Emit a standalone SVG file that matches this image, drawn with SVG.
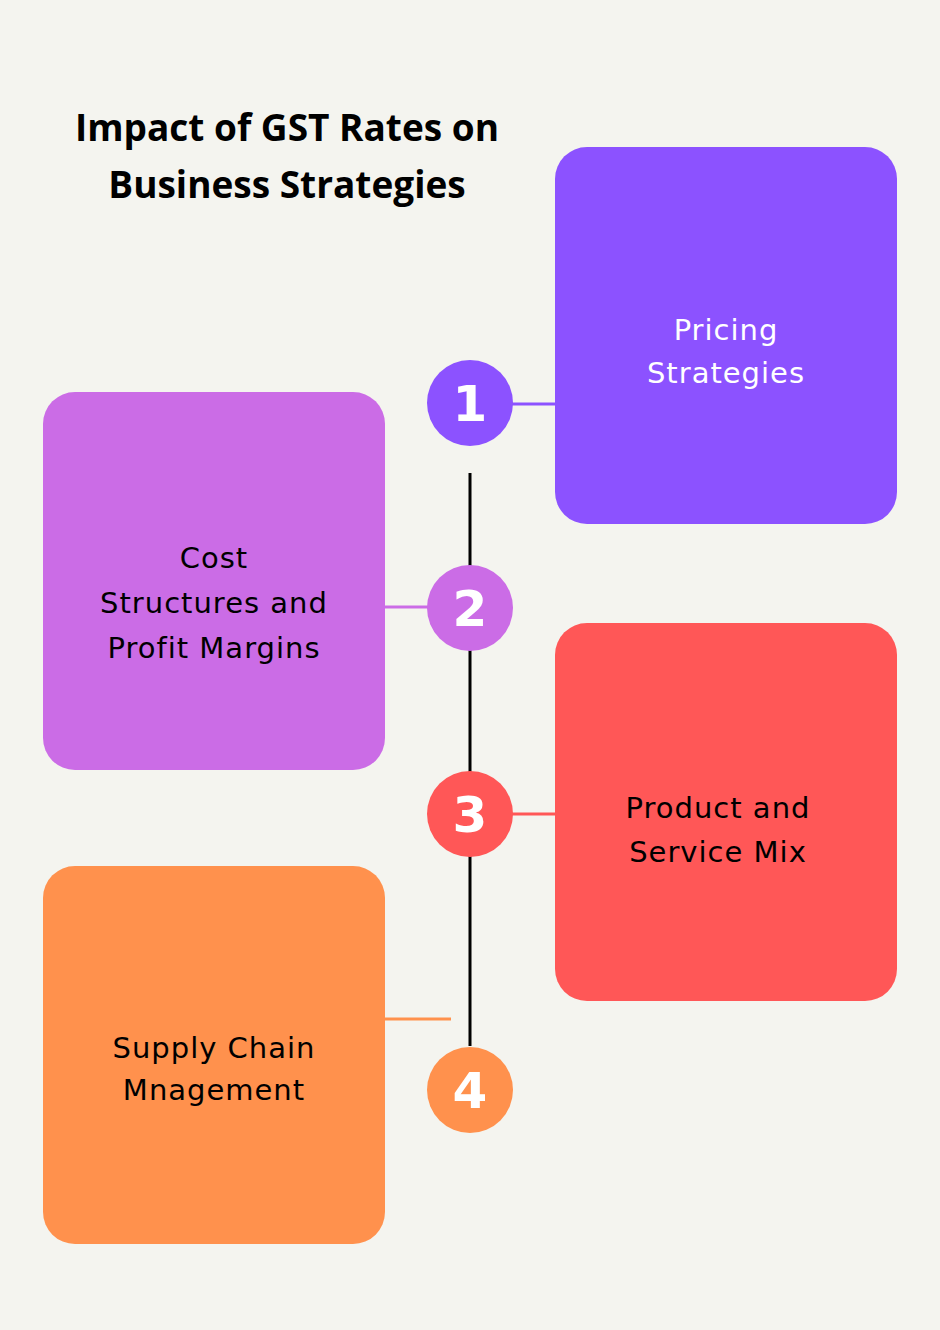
<svg xmlns="http://www.w3.org/2000/svg" width="940" height="1330" viewBox="0 0 940 1330">
<style>
.t{font-family:"Open Sans","Liberation Sans",sans-serif;font-weight:bold;font-size:37px;fill:#000;text-anchor:middle}
.l{font-family:"DejaVu Sans","Liberation Sans",sans-serif;font-size:29px;text-anchor:middle;letter-spacing:1px}
.n{font-family:"DejaVu Sans","Liberation Sans",sans-serif;font-weight:bold;font-size:50px;fill:#fff;text-anchor:middle}
</style>
<rect width="940" height="1330" fill="#f4f4ef"/>
<g id="title"><text class="t" x="287" y="141">Impact of GST Rates on</text><text class="t" x="287" y="198">Business Strategies</text></g>
<g id="connectors" stroke-width="3">
<line x1="470" y1="473" x2="470" y2="1046" stroke="#000"/>
<line x1="510" y1="404" x2="556" y2="404" stroke="#8c52ff"/>
<line x1="384" y1="607" x2="430" y2="607" stroke="#cb6ce6"/>
<line x1="510" y1="814" x2="556" y2="814" stroke="#ff5757"/>
<line x1="384" y1="1019" x2="451" y2="1019" stroke="#ff914d"/>
</g>
<g id="node1"><rect x="555" y="147" width="342" height="377" rx="32" fill="#8c52ff"/><text class="l" fill="#fff" x="726" y="340">Pricing</text><text class="l" fill="#fff" x="726" y="383">Strategies</text></g>
<g id="node2"><rect x="43" y="392" width="342" height="378" rx="32" fill="#cb6ce6"/><text class="l" fill="#000" x="214" y="568">Cost</text><text class="l" fill="#000" x="214" y="613">Structures and</text><text class="l" fill="#000" x="214" y="658">Profit Margins</text></g>
<g id="node3"><rect x="555" y="623" width="342" height="378" rx="32" fill="#ff5757"/><text class="l" fill="#000" x="718" y="818">Product and</text><text class="l" fill="#000" x="718" y="862">Service Mix</text></g>
<g id="node4"><rect x="43" y="866" width="342" height="378" rx="32" fill="#ff914d"/><text class="l" fill="#000" x="214" y="1058">Supply Chain</text><text class="l" fill="#000" x="214" y="1100">Mnagement</text></g>
<g id="c1"><circle cx="470" cy="403" r="43" fill="#8c52ff"/><text class="n" x="470" y="421">1</text></g>
<g id="c2"><circle cx="470" cy="608" r="43" fill="#cb6ce6"/><text class="n" x="470" y="626">2</text></g>
<g id="c3"><circle cx="470" cy="814" r="43" fill="#ff5757"/><text class="n" x="470" y="832">3</text></g>
<g id="c4"><circle cx="470" cy="1090" r="43" fill="#ff914d"/><text class="n" x="470" y="1108">4</text></g>
</svg>
